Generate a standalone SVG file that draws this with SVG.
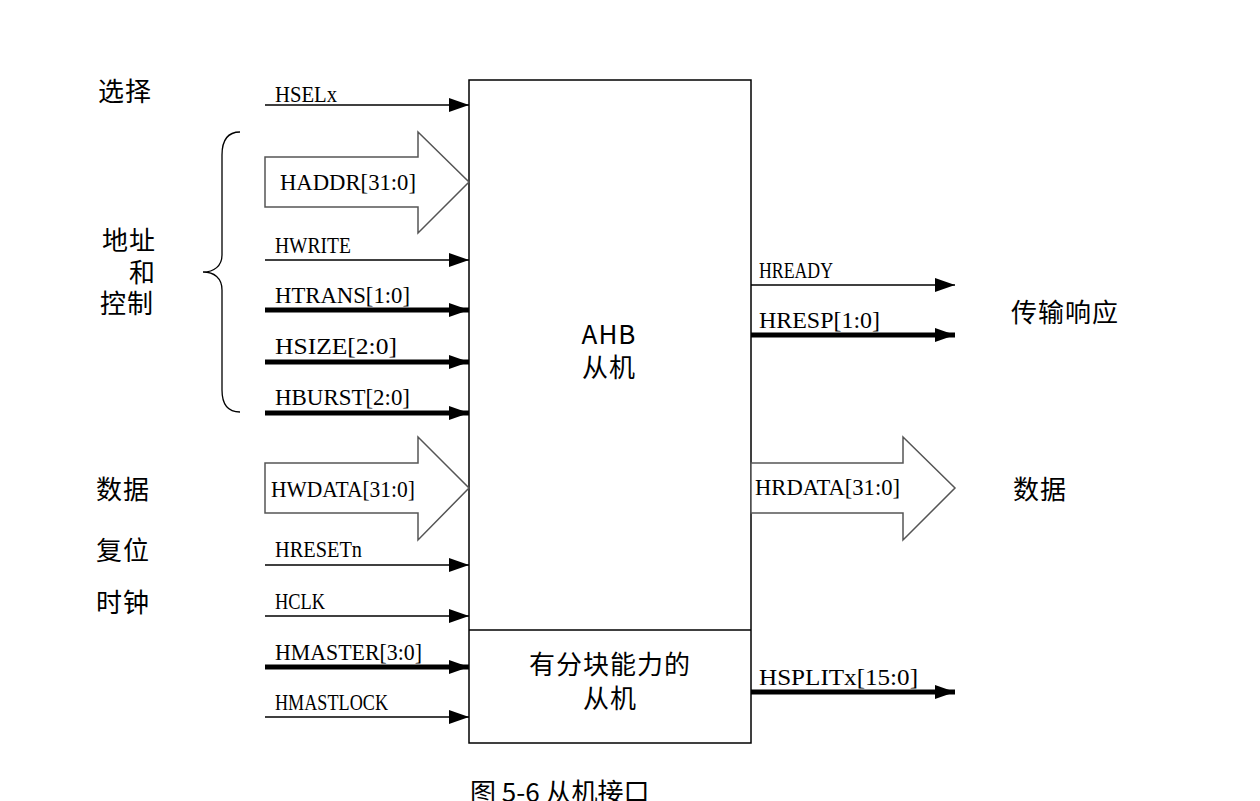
<svg xmlns="http://www.w3.org/2000/svg" width="1260" height="801" viewBox="0 0 1260 801">
<style>
.sig{font-family:"Liberation Serif","Noto Serif",serif;font-size:23px;fill:#000}
.cn{font-family:"Noto Sans CJK SC","Noto Sans",sans-serif;font-size:26px;letter-spacing:1px;fill:#000}
.box{fill:#fff;stroke:#000;stroke-width:1.5}
.thin{stroke:#000;stroke-width:1.5;fill:none}
.thick{stroke:#000;stroke-width:5;fill:none}
.bus{fill:#fff;stroke:#555;stroke-width:1.5}
</style>
<defs>
<marker id="ah" markerUnits="userSpaceOnUse" markerWidth="20" markerHeight="14" refX="20" refY="7" orient="auto">
<path d="M0,0 L20,7 L0,14 Z" fill="#000"/>
</marker>
</defs>
<rect width="1260" height="801" fill="#fff"/>
<g id="slave">
<rect class="box" x="469" y="80" width="282" height="663"/>
<line class="thin" x1="469" y1="630" x2="751" y2="630"/>
<text class="cn" x="609" y="344" text-anchor="middle">AHB</text>
<text class="cn" x="609" y="377" text-anchor="middle">从机</text>
<text class="cn" x="610" y="674" text-anchor="middle">有分块能力的</text>
<text class="cn" x="610" y="708" text-anchor="middle">从机</text>
</g>
<g id="connectors">
<line class="thin" x1="265" y1="105" x2="469" y2="105" marker-end="url(#ah)"/>
<polygon class="bus" points="265,157 418,157 418,132 469,182 418,233 418,207 265,207"/>
<line class="thin" x1="265" y1="260" x2="469" y2="260" marker-end="url(#ah)"/>
<line class="thick" x1="265" y1="310" x2="469" y2="310" marker-end="url(#ah)"/>
<line class="thick" x1="265" y1="362" x2="469" y2="362" marker-end="url(#ah)"/>
<line class="thick" x1="265" y1="413" x2="469" y2="413" marker-end="url(#ah)"/>
<polygon class="bus" points="265,463 418,463 418,437 469,488 418,540 418,513 265,513"/>
<line class="thin" x1="265" y1="565" x2="469" y2="565" marker-end="url(#ah)"/>
<line class="thin" x1="265" y1="616" x2="469" y2="616" marker-end="url(#ah)"/>
<line class="thick" x1="265" y1="667" x2="469" y2="667" marker-end="url(#ah)"/>
<line class="thin" x1="265" y1="717" x2="469" y2="717" marker-end="url(#ah)"/>
<line class="thin" x1="751" y1="285" x2="955" y2="285" marker-end="url(#ah)"/>
<line class="thick" x1="751" y1="335" x2="955" y2="335" marker-end="url(#ah)"/>
<polygon class="bus" points="751,463 903,463 903,437 955,488 903,540 903,513 751,513"/>
<line class="thick" x1="751" y1="692" x2="955" y2="692" marker-end="url(#ah)"/>
<path class="thin" style="stroke-width:1.3" d="M240,132 C228,132 222,140 222,155 L222,255 C222,266 214,272 203,272 C214,272 222,278 222,290 L222,390 C222,404 228,412 240,412"/>
</g>
<g id="signal-labels">
<text class="sig" x="275" y="102" textLength="62" lengthAdjust="spacingAndGlyphs">HSELx</text>
<text class="sig" x="280" y="190" textLength="136" lengthAdjust="spacingAndGlyphs">HADDR[31:0]</text>
<text class="sig" x="275" y="253" textLength="76" lengthAdjust="spacingAndGlyphs">HWRITE</text>
<text class="sig" x="275" y="303" textLength="135" lengthAdjust="spacingAndGlyphs">HTRANS[1:0]</text>
<text class="sig" x="275" y="354" textLength="122" lengthAdjust="spacingAndGlyphs">HSIZE[2:0]</text>
<text class="sig" x="275" y="405" textLength="135" lengthAdjust="spacingAndGlyphs">HBURST[2:0]</text>
<text class="sig" x="271" y="497" textLength="144" lengthAdjust="spacingAndGlyphs">HWDATA[31:0]</text>
<text class="sig" x="275" y="557" textLength="87" lengthAdjust="spacingAndGlyphs">HRESETn</text>
<text class="sig" x="275" y="609" textLength="50" lengthAdjust="spacingAndGlyphs">HCLK</text>
<text class="sig" x="275" y="660" textLength="147" lengthAdjust="spacingAndGlyphs">HMASTER[3:0]</text>
<text class="sig" x="275" y="710" textLength="113" lengthAdjust="spacingAndGlyphs">HMASTLOCK</text>
<text class="sig" x="759" y="278" textLength="74" lengthAdjust="spacingAndGlyphs">HREADY</text>
<text class="sig" x="759" y="328" textLength="121" lengthAdjust="spacingAndGlyphs">HRESP[1:0]</text>
<text class="sig" x="755" y="495" textLength="145" lengthAdjust="spacingAndGlyphs">HRDATA[31:0]</text>
<text class="sig" x="759" y="685" textLength="159" lengthAdjust="spacingAndGlyphs">HSPLITx[15:0]</text>
</g>
<g id="group-labels">
<text class="cn" x="98" y="101">选择</text>
<text class="cn" x="102" y="250">地址</text>
<text class="cn" x="156" y="282" text-anchor="end">和</text>
<text class="cn" x="100" y="313">控制</text>
<text class="cn" x="96" y="499">数据</text>
<text class="cn" x="96" y="560">复位</text>
<text class="cn" x="96" y="612">时钟</text>
<text class="cn" x="1011" y="322">传输响应</text>
<text class="cn" x="1013" y="499">数据</text>
</g>
<g id="caption">
<text class="cn" x="470" y="802" style="letter-spacing:0">图 5-6 从机接口</text>
</g>
</svg>
